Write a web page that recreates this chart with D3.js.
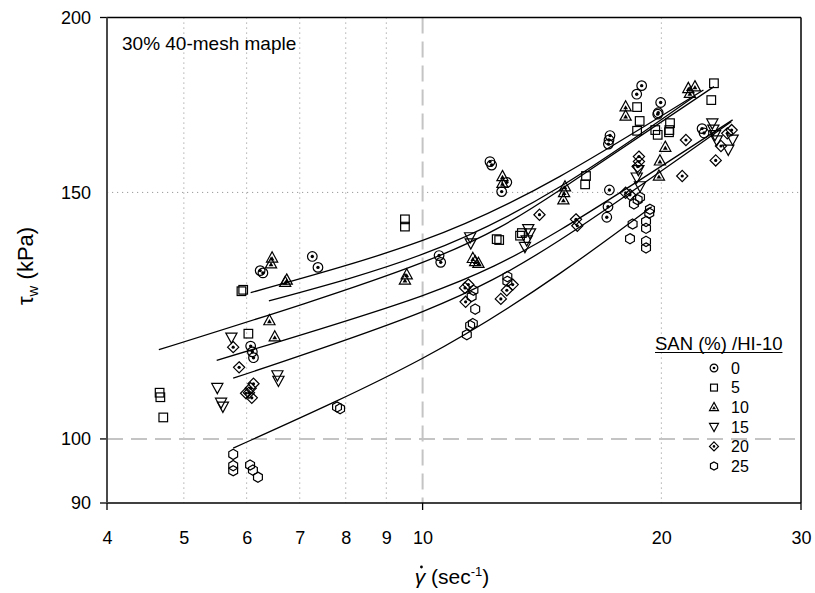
<!DOCTYPE html>
<html>
<head>
<meta charset="utf-8">
<script src="https://cdn.jsdelivr.net/npm/d3@7"></script>
<style>
  body { margin: 0; background: #fff; }
  svg { display: block; }
  text { font-family: "Liberation Sans", Arial, Helvetica, sans-serif; fill: #000; }
</style>
</head>
<body>
<svg id="chart" width="815" height="593"></svg>
<script>
// Axis ticks
const xTicks = [4, 5, 6, 7, 8, 9, 10, 20, 30];
const yTicks = [90, 100, 150, 200];
const xGrid = [5, 6, 7, 8, 9, 20];
const yGrid = [150];

// Legend
const legendTitle = "SAN (%) /HI-10";
const sanLevels = ["0", "5", "10", "15", "20", "25"];
const markerTypes = ["bullseye", "square", "triUpDot", "triDown", "diamondDot", "hexagon"];

// Measured points: [shear rate (1/s), wall shear stress (kPa)]
const san0 = [[6.24,131.9],[6.29,131.4],[7.26,135.0],[7.38,132.6],[6.07,116.5],[6.10,115.4],[6.12,114.3],
  [10.49,135.2],[10.54,133.7],[12.16,157.8],[12.22,156.9],[12.77,152.5],[12.58,150.2],
  [17.20,150.6],[17.13,146.5],[17.07,144.0],[17.23,164.7],[17.18,163.5],[17.15,162.4],
  [18.89,178.8],[18.62,176.3],[19.96,173.9],[19.82,171.0],[19.79,170.6],[22.51,166.6],[22.64,165.4]];
const san5 = [[4.66,107.9],[4.67,107.1],[4.71,103.6],[5.94,127.8],[5.91,127.5],[6.03,118.9],
  [9.50,143.5],[9.50,141.8],[12.40,138.9],[12.49,138.7],[13.34,140.3],[13.27,139.7],
  [16.07,154.1],[16.03,152.0],[18.64,172.6],[18.78,168.7],[18.64,166.0],[19.65,166.2],[19.79,164.9],
  [20.51,168.1],[20.47,166.2],[20.45,165.6],[23.12,174.6],[23.30,179.5]];
const san10 = [[6.46,134.7],[6.44,133.4],[6.71,129.4],[6.74,129.9],[6.41,121.5],[6.51,118.3],
  [9.50,129.9],[9.55,131.0],[11.57,134.6],[11.65,133.9],[11.76,133.5],[12.61,154.0],[12.61,152.3],
  [15.12,151.4],[15.05,148.2],[15.08,150.0],[18.03,172.7],[18.03,170.1],[20.23,161.6],[19.92,158.0],
  [19.86,154.1],[21.63,178.0],[22.05,178.5],[21.73,176.6]];
const san15 = [[5.74,118.2],[5.51,108.8],[5.57,106.2],[5.60,105.5],[6.56,111.1],[6.58,110.1],
  [11.48,139.4],[11.50,138.0],[13.59,141.3],[13.66,140.3],[13.53,138.7],[13.46,137.2],
  [18.71,155.7],[18.62,153.8],[18.80,151.6],[23.19,168.1],[23.26,166.4],[23.37,164.9],[23.49,163.5],
  [24.60,163.7],[24.29,161.0]];
const san20 = [[5.77,116.3],[5.87,112.5],[6.12,109.5],[6.07,108.7],[5.99,107.8],[6.04,107.9],[6.09,107.0],
  [11.42,128.9],[11.31,128.2],[11.33,125.3],[12.99,128.9],[12.77,127.7],[12.55,125.9],[14.04,144.6],
  [15.61,143.5],[15.67,142.0],[18.03,149.9],[18.26,149.4],[18.74,159.1],[18.74,157.8],[18.67,156.5],
  [21.25,154.1],[21.48,163.5],[23.42,158.1],[24.53,166.2],[24.22,165.3],[23.78,161.9]];
const san25 = [[5.77,97.5],[5.77,95.7],[5.77,94.9],[6.06,95.8],[6.11,95.0],[6.20,93.9],[7.80,105.4],[7.87,105.1],
  [11.59,127.7],[11.53,126.4],[11.65,123.8],[11.57,120.9],[11.48,120.5],[11.37,118.7],[12.79,130.6],[12.79,129.6],
  [18.80,148.8],[18.67,148.2],[18.47,147.2],[19.35,145.9],[19.31,145.0],[19.13,143.0],[19.13,141.4],
  [18.40,142.4],[18.26,139.0],[19.13,138.4],[19.13,136.9]];

// Fitted trend curves, one per SAN level
const fit0 = [[6.07,127.2],[10,138.6],[14.9,154.0],[22.6,177.5]];
const fit5 = [[4.65,115.8],[10,133.7],[14.9,150.6],[23.3,178.5]];
const fit10 = [[6.40,125.5],[10,135.5],[14.9,151.4],[22.05,175.8]];
const fit15 = [[5.50,113.8],[10,126.6],[14.9,141.0],[24.6,169.0]];
const fit20 = [[5.77,110.5],[10,123.3],[14.9,138.7],[24.5,168.5]];
const fit25 = [[5.77,98.5],[10,114.2],[14.9,131.3],[19.45,146.5]];

const seriesList = [san0, san5, san10, san15, san20, san25];
const fitList = [fit0, fit5, fit10, fit15, fit20, fit25];

const svg = d3.select("#chart");
const L = 107, R = 801, T = 17.5, B = 503;

const x = d3.scaleLog().domain([4, 30]).range([L, R]);
const y = d3.scaleLog().domain([90, 200]).range([B, T]);

// Grid: dotted minor lines
const grid = svg.append("g");
grid.selectAll("line.vg").data(xGrid).join("line")
  .attr("x1", d => x(d)).attr("x2", d => x(d)).attr("y1", T).attr("y2", B)
  .attr("stroke", "#9a9a9a").attr("stroke-width", 1).attr("stroke-dasharray", "1.2,3.8");
grid.selectAll("line.hg").data(yGrid).join("line")
  .attr("x1", L).attr("x2", R).attr("y1", d => y(d)).attr("y2", d => y(d))
  .attr("stroke", "#9a9a9a").attr("stroke-width", 1).attr("stroke-dasharray", "1.2,3.8");
// Dashed reference lines at 10 s^-1 and 100 kPa
grid.append("line").attr("x1", x(10)).attr("x2", x(10)).attr("y1", T).attr("y2", B)
  .attr("stroke", "#c4c4c4").attr("stroke-width", 2).attr("stroke-dasharray", "16,8");
grid.append("line").attr("x1", L).attr("x2", R).attr("y1", y(100)).attr("y2", y(100))
  .attr("stroke", "#c4c4c4").attr("stroke-width", 2).attr("stroke-dasharray", "16,8");

// Axes (labels only; frame and ticks drawn below)
const xAxis = svg.append("g").attr("transform", `translate(0,${B})`)
  .call(d3.axisBottom(x).tickValues(xTicks).tickFormat(d3.format("d")).tickSize(0).tickPadding(28));
const yAxis = svg.append("g").attr("transform", `translate(${L},0)`)
  .call(d3.axisLeft(y).tickValues(yTicks).tickFormat(d3.format("d")).tickSize(0).tickPadding(16));
[xAxis, yAxis].forEach(a => {
  a.select(".domain").remove();
  a.selectAll("text").attr("font-size", 18).attr("font-family", "Liberation Sans, Arial, sans-serif").attr("fill", "#000");
});

// Tick marks
svg.selectAll("line.yt").data([90, 100, 200]).join("line")
  .attr("x1", L - 7).attr("x2", L).attr("y1", d => y(d)).attr("y2", d => y(d))
  .attr("stroke", "#000").attr("stroke-width", 1.3);
svg.selectAll("line.xt").data([4, 10, 30]).join("line")
  .attr("x1", d => x(d)).attr("x2", d => x(d)).attr("y1", B).attr("y2", B + 7)
  .attr("stroke", "#000").attr("stroke-width", 1.3);

// Frame
svg.append("line").attr("x1", L).attr("x2", R).attr("y1", T).attr("y2", T).attr("stroke", "#000").attr("stroke-width", 1.5);
svg.append("line").attr("x1", R).attr("x2", R).attr("y1", T).attr("y2", B).attr("stroke", "#000").attr("stroke-width", 1.5);
svg.append("line").attr("x1", L).attr("x2", R).attr("y1", B).attr("y2", B).attr("stroke", "#000").attr("stroke-width", 1.5);
svg.append("line").attr("x1", L).attr("x2", L).attr("y1", T).attr("y2", B).attr("stroke", "#4a4a4a").attr("stroke-width", 2);

// Trend curves
const line = d3.line().x(d => x(d[0])).y(d => y(d[1])).curve(d3.curveNatural);
svg.append("g").selectAll("path").data(fitList).join("path")
  .attr("d", line).attr("fill", "none").attr("stroke", "#000").attr("stroke-width", 1.3);

// Marker shapes
function drawMarker(g, type, s) {
  const k = s / 10;
  const st = { fill: "none", stroke: "#000", "stroke-width": 1.2 };
  const apply = (el) => { Object.entries(st).forEach(([a, v]) => el.attr(a, v)); return el; };
  if (type === "bullseye") {
    apply(g.append("circle").attr("r", 4.8 * k));
    g.append("circle").attr("r", 1.7 * k).attr("fill", "#000");
  } else if (type === "square") {
    apply(g.append("rect").attr("x", -4.3 * k).attr("y", -4.3 * k).attr("width", 8.6 * k).attr("height", 8.6 * k));
  } else if (type === "triUpDot") {
    apply(g.append("path").attr("d", `M0,${-6 * k}L${5.6 * k},${4.2 * k}L${-5.6 * k},${4.2 * k}Z`));
    g.append("path").attr("d", `M0,${-1.6 * k}L${2.4 * k},${2.6 * k}L${-2.4 * k},${2.6 * k}Z`).attr("fill", "#000");
  } else if (type === "triDown") {
    apply(g.append("path").attr("d", `M0,${6 * k}L${5.6 * k},${-4.2 * k}L${-5.6 * k},${-4.2 * k}Z`));
  } else if (type === "diamondDot") {
    apply(g.append("path").attr("d", `M0,${-5.6 * k}L${5.6 * k},0L0,${5.6 * k}L${-5.6 * k},0Z`));
    g.append("circle").attr("r", 1.6 * k).attr("fill", "#000");
  } else if (type === "hexagon") {
    const pts = d3.range(6).map(i => {
      const a = -Math.PI / 2 + i * Math.PI / 3;
      return [5.1 * k * Math.cos(a), 5.1 * k * Math.sin(a)];
    });
    apply(g.append("path").attr("d", "M" + pts.join("L") + "Z"));
  }
}

// Data points
seriesList.forEach((pts, i) => {
  const gs = svg.append("g");
  pts.forEach(p => {
    const g = gs.append("g").attr("transform", `translate(${x(p[0])},${y(p[1])})`);
    drawMarker(g, markerTypes[i], 10);
  });
});

// Annotation
svg.append("text").attr("x", 122).attr("y", 50).attr("font-size", 19).text("30% 40-mesh maple");

// Legend
const lg = svg.append("g");
const lt = lg.append("text").attr("x", 655).attr("y", 350).attr("font-size", 18.5).text(legendTitle);
const ltw = lt.node().getComputedTextLength();
lg.append("line").attr("x1", 655).attr("x2", 655 + ltw).attr("y1", 352.5).attr("y2", 352.5)
  .attr("stroke", "#000").attr("stroke-width", 1.2);
sanLevels.forEach((lab, i) => {
  const cy = 368 + i * 19.6;
  const g = lg.append("g").attr("transform", `translate(714,${cy})`);
  drawMarker(g, markerTypes[i], 8);
  lg.append("text").attr("x", 731).attr("y", cy).attr("dy", "0.36em").attr("font-size", 16).text(lab);
});

// Axis titles
const yt = svg.append("text").attr("transform", "translate(33,266) rotate(-90)")
  .attr("text-anchor", "middle").attr("font-size", 22);
yt.append("tspan").text("τ");
yt.append("tspan").attr("font-size", 15).attr("dy", 5).text("w");
yt.append("tspan").attr("dy", -5).text(" (kPa)");

const xt = svg.append("text").attr("x", 452).attr("y", 584).attr("text-anchor", "middle").attr("font-size", 21);
xt.append("tspan").attr("font-style", "italic").text("γ");
xt.append("tspan").text(" (sec");
xt.append("tspan").attr("font-size", 13).attr("dy", -8).text("-1");
xt.append("tspan").attr("dy", 8).text(")");
// dot over the gamma
const gBox = xt.node().getExtentOfChar(0);
svg.append("circle").attr("cx", gBox.x + gBox.width / 2 + 1.5).attr("cy", gBox.y + 2).attr("r", 1.4).attr("fill", "#000");
</script>
</body>
</html>
